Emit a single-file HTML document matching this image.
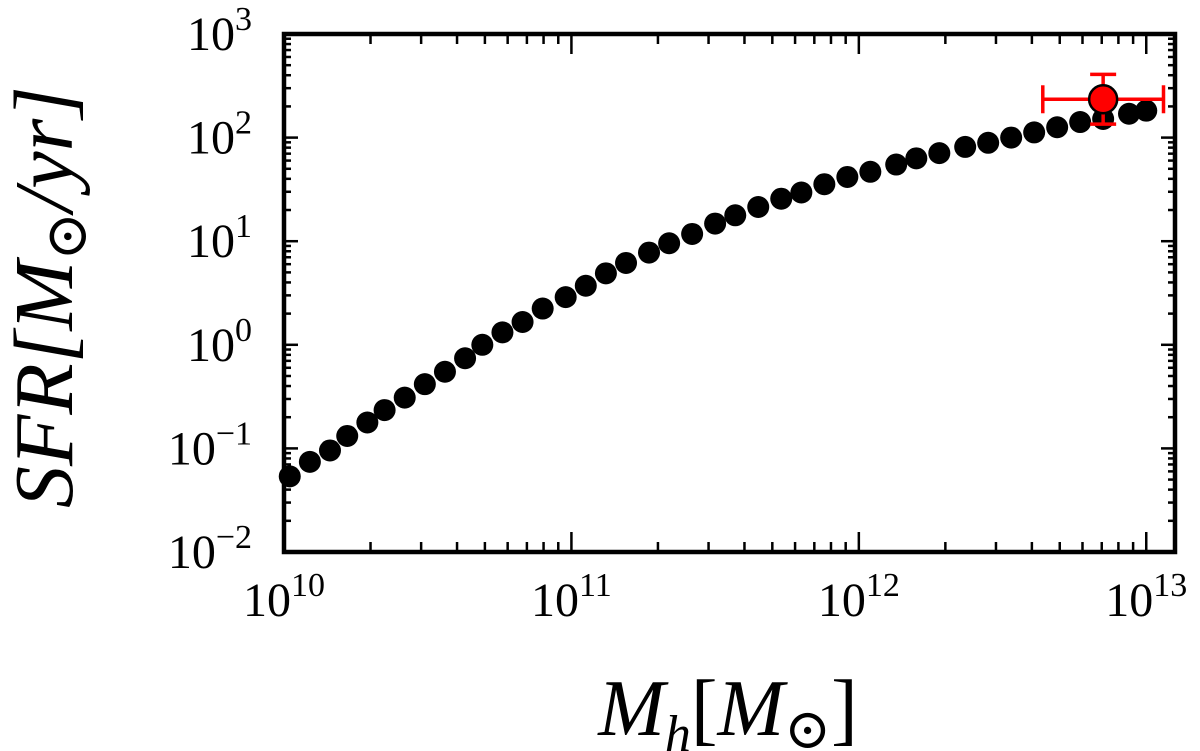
<!DOCTYPE html>
<html><head><meta charset="utf-8"><style>
html,body{margin:0;padding:0;background:#fff;}
svg{display:block;}
text{font-family:"Liberation Serif","DejaVu Serif",serif;fill:#000;}
</style></head><body>
<svg id="chart" width="1200" height="751" viewBox="0 0 1200 751" xmlns="http://www.w3.org/2000/svg">
<g id="marks"></g>
<g id="axes"></g>
<text transform="translate(72,297) rotate(-90)" text-anchor="middle" font-size="84" font-style="italic">SFR[M<tspan font-style="normal" font-size="58" dy="14">⊙</tspan><tspan dy="-14">/yr]</tspan></text>
<text x="728" y="735" text-anchor="middle" font-size="80" font-style="italic">M<tspan font-size="52" dy="16">h</tspan><tspan dy="-16" font-style="normal">[</tspan>M<tspan font-style="normal" font-size="56" dy="13">⊙</tspan><tspan dy="-13" font-style="normal">]</tspan></text>
</svg>
<script>
const logMass=[10.02,10.09,10.16,10.22,10.29,10.35,10.42,10.49,10.56,10.63,10.69,10.76,10.83,10.90,10.98,11.05,11.12,11.19,11.27,11.34,11.42,11.50,11.57,11.65,11.73,11.80,11.88,11.96,12.04,12.13,12.20,12.28,12.37,12.45,12.53,12.61,12.69,12.77,12.85,12.94,13.00];
const logSFR=[-1.27,-1.13,-1.02,-0.88,-0.75,-0.63,-0.51,-0.38,-0.26,-0.13,0.00,0.12,0.22,0.35,0.46,0.57,0.69,0.79,0.89,0.98,1.07,1.17,1.25,1.33,1.41,1.47,1.55,1.62,1.67,1.74,1.80,1.85,1.91,1.95,2.00,2.05,2.10,2.15,2.18,2.23,2.26];
const obsX=[12.85], obsY=[2.37], obsXlo=[12.64], obsXhi=[13.06], obsYlo=[2.13], obsYhi=[2.61];
const xTicks=[10,11,12,13];
const yTicks=[-2,-1,0,1,2,3];
const L=284,R=1175,T=34,B=552,X0=10,X1=13.1,Y0=-2,Y1=3;
const sx=v=>L+(v-X0)/(X1-X0)*(R-L);
const sy=v=>B-(v-Y0)/(Y1-Y0)*(B-T);
const NS="http://www.w3.org/2000/svg";
function mk(tag,attrs,parent){const e=document.createElementNS(NS,tag);for(const k in attrs)e.setAttribute(k,attrs[k]);parent.appendChild(e);return e;}
const marks=document.getElementById('marks'),axes=document.getElementById('axes');
logMass.forEach((m,i)=>{
  const c=mk('circle',{cx:sx(m),cy:sy(logSFR[i]),r:11,fill:'#000'},marks);
  
  
});
obsX.forEach((m,i)=>{
  const g=mk('g',{},marks);
  
  
  const st={stroke:'#f00','stroke-width':3.5};
  mk('line',Object.assign({x1:sx(obsXlo[i]),x2:sx(obsXhi[i]),y1:sy(obsY[i]),y2:sy(obsY[i])},st),g);
  mk('line',Object.assign({x1:sx(m),x2:sx(m),y1:sy(obsYlo[i]),y2:sy(obsYhi[i])},st),g);
  [obsXlo[i],obsXhi[i]].forEach(v=>mk('line',Object.assign({x1:sx(v),x2:sx(v),y1:sy(obsY[i])-14,y2:sy(obsY[i])+14},st),g));
  [obsYlo[i],obsYhi[i]].forEach(v=>mk('line',Object.assign({x1:sx(m)-13,x2:sx(m)+13,y1:sy(v),y2:sy(v)},st),g));
  mk('circle',{cx:sx(m),cy:sy(obsY[i]),r:14,fill:'#f00',stroke:'#000','stroke-width':2.5},g);
});
const frame=mk('rect',{x:L,y:T,width:R-L,height:B-T,fill:'none',stroke:'#000','stroke-width':4.5},axes);


for(let d=10;d<=13;d++){for(let k=1;k<10;k++){const v=d+Math.log10(k);if(v>X1)break;const x=sx(v);const len=k===1?20:10;
 mk('line',{x1:x,x2:x,y1:B,y2:B-len,stroke:'#000','stroke-width':2.5},axes);
 mk('line',{x1:x,x2:x,y1:T,y2:T+len,stroke:'#000','stroke-width':2.5},axes);}}
for(let d=-2;d<3;d++){for(let k=1;k<10;k++){const v=d+Math.log10(k);const y=sy(v);const len=k===1?14:7;
 mk('line',{x1:L,x2:L+len,y1:y,y2:y,stroke:'#000','stroke-width':2.5},axes);
 mk('line',{x1:R,x2:R-len,y1:y,y2:y,stroke:'#000','stroke-width':2.5},axes);}}
xTicks.forEach(t=>{
  const tx=mk('text',{x:sx(t),y:616,'text-anchor':'middle','font-size':48},axes);
  
  
  tx.innerHTML='10<tspan font-size="34" dy="-20">'+t+'</tspan>';
});
yTicks.forEach(t=>{
  const tx=mk('text',{x:252,y:sy(t)+16,'text-anchor':'end','font-size':48},axes);
  
  
  tx.innerHTML='10<tspan font-size="34" dy="-20">'+(t<0?'\u2212'+(-t):t)+'</tspan>';
});
</script>
</body></html>
